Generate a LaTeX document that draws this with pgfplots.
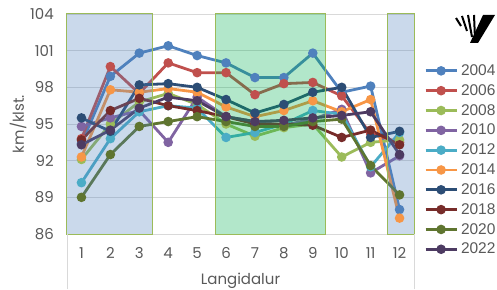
\documentclass[border=0pt]{standalone}
\usepackage{fontspec}
\setmainfont{Poppins}
\newfontfamily\legfont{Liberation Sans}
\usepackage{pgfplots}
\usepackage{pgfplotstable}
\pgfplotsset{compat=1.18}
\definecolor{c04}{HTML}{4F81BD}
\definecolor{c06}{HTML}{C0504D}
\definecolor{c08}{HTML}{9BBB59}
\definecolor{c10}{HTML}{8064A2}
\definecolor{c12}{HTML}{4BACC6}
\definecolor{c14}{HTML}{F79646}
\definecolor{c16}{HTML}{2C4D75}
\definecolor{c18}{HTML}{772C2A}
\definecolor{c20}{HTML}{5F7530}
\definecolor{c22}{HTML}{4D3B62}
\definecolor{txt}{HTML}{595959}
\definecolor{grd}{HTML}{D9D9D9}
\definecolor{bord}{HTML}{9BBB59}
\definecolor{bandb}{HTML}{4F81BD}
\definecolor{bandg}{HTML}{00B050}
\pgfplotstableread{
x  a04   a06   a08   a10   a12   a14   a16   a18   a20   a22
1  93.4  93.8  92.1  94.8  90.2  92.3  95.5  93.7  89.0  93.3
2  98.9  99.7  95.0  95.5  93.8  97.8  94.4  96.1  92.5  94.5
3  100.8 97.5  96.8  96.1  96.0  97.6  98.2  97.1  94.8  96.3
4  101.4 100.0 97.5  93.5  96.5  97.9  98.3  96.5  95.2  97.2
5  100.6 99.2  96.6  97.2  96.3  97.6  98.0  96.1  95.6  96.9
6  100.0 99.2  95.0  95.6  93.9  96.4  97.0  95.6  95.2  95.6
7  98.8  97.4  94.0  95.2  94.3  95.6  95.9  95.0  94.8  95.2
8  98.8  98.3  94.7  94.9  95.0  96.1  96.6  95.0  94.8  95.3
9  100.8 98.4  95.0  95.4  96.1  96.9  97.6  94.9  95.2  95.5
10 97.6  97.3  92.3  96.2  95.8  96.0  98.0  93.9  95.4  95.7
11 98.1  94.2  93.5  91.0  91.5  97.0  93.9  94.5  91.6  96.0
12 88.0  93.5  93.7  92.4  94.3  87.3  94.4  93.3  89.2  92.5
}\data
\begin{document}
\begin{tikzpicture}[x=1pt,y=1pt]
\begin{axis}[
  at={(67pt,55pt)}, anchor=south west, scale only axis,
  width=347pt, height=220pt,
  xmin=0.5, xmax=12.5, ymin=86, ymax=104,
  xtick={1,...,12}, ytick={86,89,...,104},
  axis line style={draw=none}, major tick length=0pt,
  ymajorgrids, grid style={grd, line width=0.8pt},
  tick label style={font=\fontsize{15}{15}\selectfont, text=txt},
  /pgf/number format/assume math mode=true,
  yticklabel style={inner sep=0pt, anchor=east, xshift=-13pt},
  xticklabel style={inner sep=0pt, anchor=north, yshift=-13.7pt},
  xlabel={Langidalur}, ylabel={km/klst.},
  label style={font=\fontsize{15}{15}\selectfont, text=txt},
  xlabel style={at={(axis description cs:0.5,-0.2318)}, anchor=base},
  ylabel style={at={(axis description cs:-0.1412,0.5)}, anchor=center},
  ser/.style={line width=2.8pt, mark=*, mark size=3.3pt, mark options={solid}},
  legend style={at={(axis description cs:1,1)}, anchor=north west,
    xshift=10pt, yshift=-50.5pt, draw=none, fill=none,
    font=\legfont\fontsize{15.5}{15.5}\selectfont, text=txt,
    inner sep=0pt, row sep=7.5pt, nodes={inner sep=0pt},
    /tikz/every odd column/.append style={column sep=3pt}},
  legend cell align=left,
  legend image code/.code={\draw[mark repeat=2, mark phase=2, #1] plot coordinates {(0pt,0pt) (15.5pt,0pt) (31pt,0pt)};},
  clip=false,
]
\addplot[ser, c04] table[x=x, y=a04] {\data}; \addlegendentry{2004}
\addplot[ser, c06] table[x=x, y=a06] {\data}; \addlegendentry{2006}
\addplot[ser, c08] table[x=x, y=a08] {\data}; \addlegendentry{2008}
\addplot[ser, c10] table[x=x, y=a10] {\data}; \addlegendentry{2010}
\addplot[ser, c12] table[x=x, y=a12] {\data}; \addlegendentry{2012}
\addplot[ser, c14] table[x=x, y=a14] {\data}; \addlegendentry{2014}
\addplot[ser, c16] table[x=x, y=a16] {\data}; \addlegendentry{2016}
\addplot[ser, c18] table[x=x, y=a18] {\data}; \addlegendentry{2018}
\addplot[ser, c20] table[x=x, y=a20] {\data}; \addlegendentry{2020}
\addplot[ser, c22] table[x=x, y=a22] {\data}; \addlegendentry{2022}
\addplot[forget plot, draw=bord, line width=1pt, fill=bandb, fill opacity=0.3, mark=none] coordinates {(0.5,86) (0.5,104) (3.44,104) (3.44,86)} -- cycle;
\addplot[forget plot, draw=bord, line width=1pt, fill=bandg, fill opacity=0.3, mark=none] coordinates {(5.65,86) (5.65,104) (9.43,104) (9.43,86)} -- cycle;
\addplot[forget plot, draw=bord, line width=1pt, fill=bandb, fill opacity=0.3, mark=none] coordinates {(11.57,86) (11.57,104) (12.5,104) (12.5,86)} -- cycle;
\end{axis}
\draw[grd, line width=0.8pt] (67pt,0pt) -- (67pt,55pt);
\draw[grd, line width=0.8pt] (414.5pt,0pt) -- (414.5pt,55pt);
% logo
\fill[black] (483pt,274pt) -- (495pt,274pt) -- (478pt,246pt) -- (470pt,246pt) -- cycle;
\draw[black, line width=2pt] (456pt,271pt) -- (461pt,263pt);
\draw[black, line width=2pt] (462pt,273pt) -- (467pt,258pt);
\draw[black, line width=2pt] (468pt,274pt) -- (472pt,252pt);
\draw[black, line width=2pt] (474pt,274pt) -- (475pt,250pt);
\pgfresetboundingbox
\path (0pt,0pt) rectangle (497pt,289pt);
\end{tikzpicture}
\end{document}
